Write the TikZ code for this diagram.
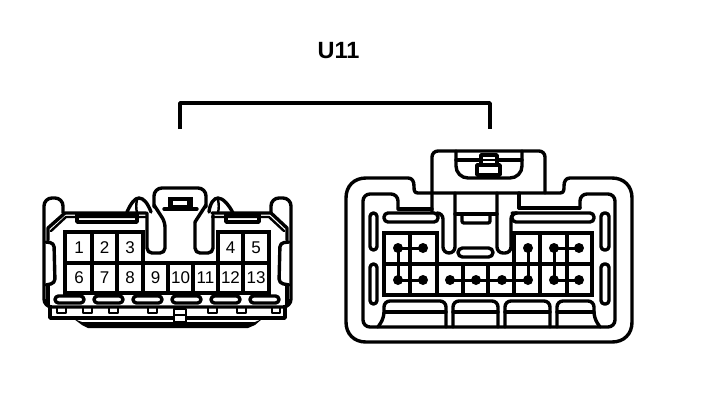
\documentclass[tikz,border=0pt]{standalone}
\usepackage{fontspec}
\setmainfont{Liberation Sans}
\tikzset{
  ln/.style={draw=black,line width=3.4pt,line join=round,line cap=round},
  thin ln/.style={draw=black,line width=2.4pt,line join=round,line cap=round},
  grid ln/.style={draw=black,line width=3.6pt,line join=miter,line cap=rect},
  pin/.style={font=\fontsize{17}{17}\selectfont,inner sep=0pt,text=black},
  dot/.style={fill=black,draw=none},
  wire/.style={draw=black,line width=3pt}
}
\begin{document}
\begin{tikzpicture}[x=1pt,y=-1pt]
\useasboundingbox (0,0) rectangle (704,400);
\fill[white] (0,0) rectangle (704,400);
\node[font=\bfseries\fontsize{23.5}{23.5}\selectfont,inner sep=0pt] (title) at (338.5,51) {U11};
\draw[ln,line cap=butt] (180,129) -- (180,103) -- (490,103) -- (490,129);

% ===== left connector =====
% outer walls and tabs
\draw[ln,rounded corners=8pt] (63,213) -- (63,198) -- (44,198) -- (44,307) -- (291,307) -- (291,198) -- (271,198) -- (271,213);
\draw[ln] (48,240) -- (48,228) -- (65,213) -- (146,213);
\draw[thin ln] (51,231) -- (66,217) -- (146,217);
\draw[ln] (212,213) -- (271,213) -- (287,228) -- (287,240);
\draw[thin ln] (212,217) -- (269,217) -- (284,231);
% side slots
\draw[ln,rounded corners=4pt] (46,242) -- (54,243) -- (55,283) -- (46,285);
\draw[ln,rounded corners=4pt] (289,242) -- (280,243) -- (279,283) -- (289,285);
\draw[ln] (48,285) -- (48,305);
\draw[ln] (287,285) -- (287,305);
% upper boxes
\draw[ln] (77,214) rectangle (137,222);
\draw[ln] (226,214) rectangle (259,222);
% arcs beside the latch
\draw[ln] (127,212) .. controls (131,203) and (135,198) .. (139,198) .. controls (144,198) and (148,204) .. (151,212);
\draw[thin ln] (137,200) .. controls (136,204) and (136,208) .. (137,213);
\draw[ln] (209,212) .. controls (210,203) and (214,198) .. (218,198) .. controls (223,198) and (229,205) .. (233,213);
\draw[thin ln] (218,200) .. controls (219,204) and (219,208) .. (218,213);
% latch tubes and hood
\draw[ln,rounded corners=5pt] (147,213) -- (147,253) -- (165,253) -- (165,222) -- (154,205);
\draw[ln,rounded corners=5pt] (195,222) -- (195,253) -- (213,253) -- (213,215);
\draw[ln] (195,222) -- (206,205);
\draw[ln,rounded corners=8pt] (154,207) -- (154,188) -- (206,188) -- (206,207);
\draw[ln] (164,209) -- (197,209);
\draw[fill=black,draw=black,line width=1pt] (168,197) rectangle (192,207);
\fill[white] (173,201) rectangle (187,205);
% numbered grid
\draw[grid ln,fill=white] (65,232) -- (143,232) -- (143,263) -- (218,263) -- (218,232) -- (269,232) -- (269,293) -- (65,293) -- cycle;
\draw[grid ln] (65,263) -- (143,263) (218,263) -- (269,263);
\foreach \gx in {92,117,143,168,193,218,243} \draw[grid ln] (\gx,263) -- (\gx,293);
\foreach \gx in {92,117} \draw[grid ln] (\gx,232) -- (\gx,263);
\draw[grid ln] (243,232) -- (243,263);
\node[pin] (p1) at (79,248) {1};
\node[pin] (p2) at (104.5,248) {2};
\node[pin] (p3) at (130,248) {3};
\node[pin] (p4) at (230.5,248) {4};
\node[pin] (p5) at (256,248) {5};
\node[pin] (p6) at (79,278) {6};
\node[pin] (p7) at (104.5,278) {7};
\node[pin] (p8) at (130,278) {8};
\node[pin] (p9) at (155.5,278) {9};
\node[pin] (p10) at (180.5,278) {10};
\node[pin] (p11) at (205.5,278) {11};
\node[pin] (p12) at (230.5,278) {12};
\node[pin] (p13) at (256,278) {13};
% oval slots
\foreach \ox in {55,94,133,172,211,250}
  \draw[ln,rounded corners=3.5pt] (\ox,296) rectangle (\ox+29,303);
% under-side
\foreach \tx/\tw in {57/9,83/9,109/9,148/9,208/9,237/9,272/8}
  \draw[thin ln] (\tx,307) -- (\tx,313) -- (\tx+\tw,313) -- (\tx+\tw,307);
\draw[thin ln,fill=white] (174,309) rectangle (186,322);
\draw[thin ln] (174,315) -- (186,315);
\draw[ln] (50,307) -- (50,318) -- (75,318);
\draw[ln] (285,307) -- (285,318) -- (260,318);
\draw[ln] (75,318) -- (173,318);
\draw[ln] (187,318) -- (260,318);
\fill[black] (74,319) -- (82,325) -- (88,328) -- (248,328) -- (255,325) -- (262,319) -- (255,322) -- (82,322) -- cycle;

% ===== right connector =====
\draw[ln] (418,193) .. controls (414,193) and (414,190) .. (414,186) .. controls (414,181) and (412,178) .. (408,178) -- (366,178) .. controls (354,178) and (346,186) .. (346,198) -- (346,322) .. controls (346,334) and (354,342) .. (366,342) -- (612,342) .. controls (624,342) and (632,334) .. (632,322) -- (632,198) .. controls (632,186) and (624,178) .. (612,178) -- (570,178) .. controls (566,178) and (564,181) .. (564,186) .. controls (564,190) and (564,193) .. (560,193) -- cycle;
% inner frame
\draw[ln,rounded corners=7pt] (398,208) -- (398,194) -- (363,194) -- (363,327) -- (615,327) -- (615,194) -- (580,194) -- (580,208);
\draw[ln] (398,209) -- (432,209);
\draw[ln] (519,208) -- (580,208);
% hood
\draw[ln,rounded corners=6pt] (432,212) -- (432,151) -- (545,151) -- (545,193);
\draw[ln] (519,193) -- (519,208);
\draw[ln,rounded corners=12pt] (456,151) -- (456,178) -- (522,178) -- (522,151);
\draw[ln] (456,160) -- (522,160);
\draw[ln,fill=white] (477,165) rectangle (500,175);
\draw[ln,fill=white] (481,155) rectangle (497,165);
\draw[thin ln] (481,160) -- (497,160);
% top ovals
\draw[ln,rounded corners=4pt] (384,213) rectangle (438,222);
\draw[ln,rounded corners=4pt] (512,213) rectangle (594,222);
% side slots
\draw[ln,rounded corners=3.5pt] (370,213) rectangle (377,250);
\draw[ln,rounded corners=3.5pt] (370,264) rectangle (377,304);
\draw[ln,rounded corners=3.5pt] (601,213) rectangle (609,250);
\draw[ln,rounded corners=3.5pt] (601,264) rectangle (609,304);
% tubes and centre pieces
\draw[ln,rounded corners=6pt] (438,213) -- (443,213) -- (443,253) -- (455,253) -- (455,193);
\draw[ln,rounded corners=6pt] (512,213) -- (511,213) -- (511,253) -- (497,253) -- (497,193);
\draw[ln] (455,214) -- (497,214);
\draw[ln,rounded corners=2pt] (462,214) -- (462,223) -- (490,223) -- (490,214);
\draw[ln,rounded corners=4.5pt] (458,248) rectangle (493,257);
% grid
\draw[grid ln] (384,233) -- (437,233) -- (437,264) -- (514,264) -- (514,233) -- (592,233) -- (592,295) -- (384,295) -- cycle;
\draw[grid ln] (384,264) -- (592,264);
\foreach \gx in {410,540,567} \draw[grid ln] (\gx,233) -- (\gx,295);
\foreach \gx in {437,463,488,514} \draw[grid ln] (\gx,264) -- (\gx,295);
% wires
\draw[wire] (398,248) -- (423,248) (398,248) -- (398,280) (398,280) -- (423,280);
\draw[wire] (450,280) -- (528,280) -- (528,248);
\draw[wire] (554,248) -- (579,248) (554,248) -- (554,280) -- (579,280);
\foreach \dx/\dy in {398/248,423/248,528/248,554/248,579/248,398/280,423/280,450/280,476/280,502/280,528/280,554/280,579/280}
  \fill[dot] (\dx,\dy) circle (5);
% bottom pockets
\draw[ln,rounded corners=6pt] (378,327) -- (384,318) -- (384,301) -- (446,301) -- (446,327);
\draw[ln,rounded corners=6pt] (453,327) -- (453,301) -- (498,301) -- (498,327);
\draw[ln,rounded corners=6pt] (505,327) -- (505,301) -- (550,301) -- (550,327);
\draw[ln,rounded corners=6pt] (557,327) -- (557,301) -- (594,301) -- (594,318) -- (600,327);
\draw[ln] (385,312) -- (446,312) (453,312) -- (498,312) (505,312) -- (550,312) (557,312) -- (594,312);
\end{tikzpicture}
\end{document}
